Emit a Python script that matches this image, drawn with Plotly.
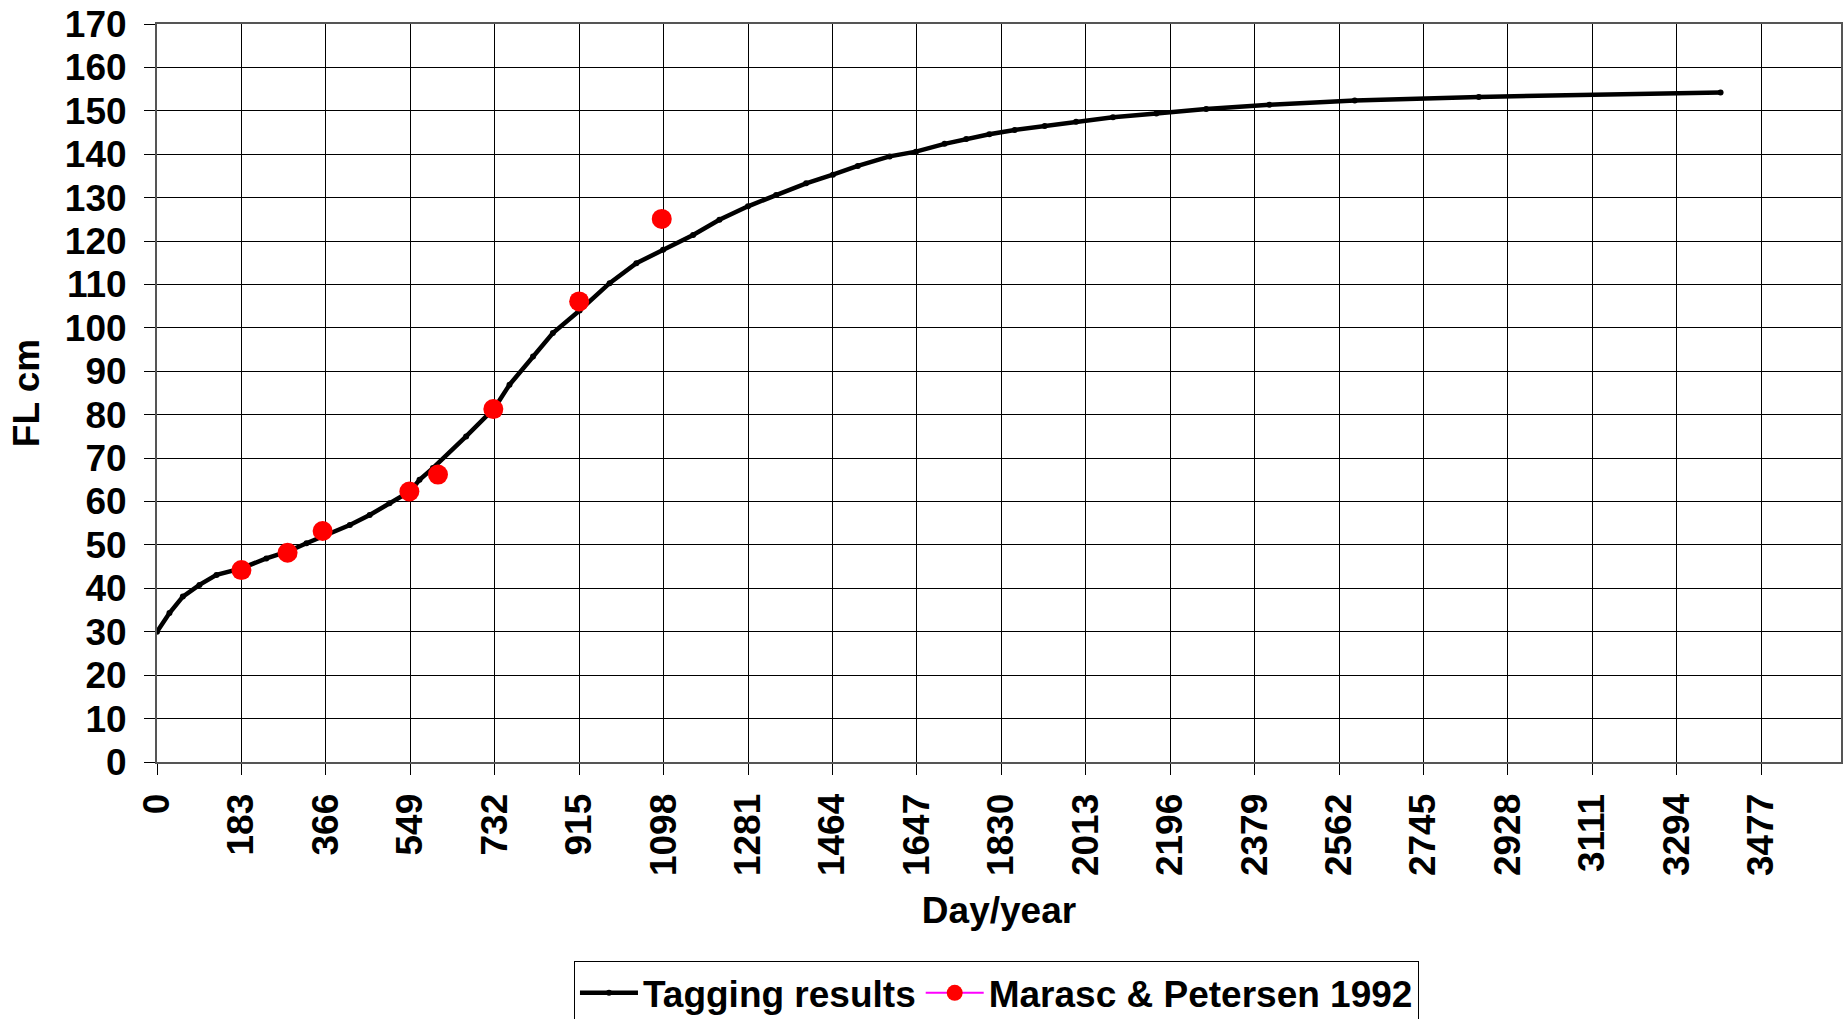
import plotly.graph_objects as go

# Tagging results (day, fork length cm)
tag_days = [0, 27, 56, 92, 129, 183, 237, 284, 324, 366, 418, 461, 504, 548, 569,
            598, 670, 732, 764, 815, 858, 916, 981, 1039, 1097, 1162, 1219, 1281,
            1342, 1407, 1465, 1519, 1588, 1645, 1707, 1754, 1804, 1859, 1924, 1992,
            2072, 2166, 2274, 2411, 2596, 2865, 3389]
tag_fl = [30.0, 34.3, 38.1, 40.8, 43.1, 44.6, 46.9, 48.5, 50.4, 52.3, 54.6, 56.9, 59.6, 62.3, 65.0,
          67.7, 75.0, 81.6, 86.9, 93.4, 98.8, 104.0, 110.3, 114.9, 118.0, 121.4, 124.9, 128.0,
          130.6, 133.3, 135.3, 137.3, 139.5, 140.6, 142.4, 143.5, 144.6, 145.6, 146.5, 147.5,
          148.5, 149.4, 150.4, 151.4, 152.4, 153.2, 154.2]

# Marasc & Petersen 1992
mp_days = [183, 283, 359, 547, 609, 729, 915, 1094]
mp_fl = [44.2, 48.2, 53.2, 62.3, 66.2, 81.3, 106.1, 125.1]

x_ticks = [0, 183, 366, 549, 732, 915, 1098, 1281, 1464, 1647, 1830, 2013, 2196,
           2379, 2562, 2745, 2928, 3111, 3294, 3477]
y_ticks = [0, 10, 20, 30, 40, 50, 60, 70, 80, 90, 100, 110, 120, 130, 140, 150, 160, 170]

FONT = "Liberation Sans, Arial, sans-serif"

# separate the Marasc points so no connecting line is drawn (legend still shows line)
mp_x, mp_y = [], []
for d, v in zip(mp_days, mp_fl):
    mp_x += [d, None]
    mp_y += [v, None]

fig = go.Figure()
fig.add_trace(go.Scatter(
    x=tag_days, y=tag_fl, mode="lines+markers", name="Tagging results",
    line=dict(color="black", width=4.5),
    marker=dict(color="black", size=6, symbol="circle"),
))
fig.add_trace(go.Scatter(
    x=mp_x, y=mp_y, mode="lines+markers", name="Marasc & Petersen 1992",
    connectgaps=False,
    line=dict(color="#FF00FF", width=2),
    marker=dict(color="#FF0000", size=20, symbol="circle", line=dict(width=0)),
))

axis_font = dict(family=FONT, size=37, color="black", weight="bold")

fig.update_layout(
    width=1843, height=1019,
    margin=dict(l=157, r=2, t=24, b=257, autoexpand=False),
    paper_bgcolor="white", plot_bgcolor="white",
    font=dict(family=FONT, color="black"),
    showlegend=True,
    legend=dict(
        orientation="h", x=0.4985, xanchor="center", y=-0.27, yanchor="top",
        font=dict(family=FONT, size=37, color="black", weight="bold"),
        bordercolor="black", borderwidth=1, bgcolor="white",
        itemsizing="trace", tracegroupgap=0, itemwidth=58,
    ),
    xaxis=dict(
        range=[0, 3650], tickmode="array", tickvals=x_ticks,
        ticktext=[str(t) for t in x_ticks], tickangle=-90,
        tickfont=axis_font, ticks="outside", ticklen=11, tickcolor="black", tickwidth=1,
        showgrid=True, gridcolor="black", gridwidth=1,
        showline=True, linecolor="#555555", linewidth=2, mirror=True,
        zeroline=False, ticklabelstandoff=4,
        title=dict(text="Day/year", font=axis_font, standoff=22),
        automargin=False,
    ),
    yaxis=dict(
        range=[0, 170], tickmode="array", tickvals=y_ticks,
        ticktext=[str(t) for t in y_ticks],
        tickfont=axis_font, ticks="outside", ticklen=11, tickcolor="black", tickwidth=1,
        showgrid=True, gridcolor="black", gridwidth=1,
        showline=True, linecolor="#555555", linewidth=2, mirror=True,
        zeroline=False, ticklabelstandoff=10,
        title=dict(text="FL cm", font=axis_font, standoff=14),
        automargin=False,
    ),
)

fig.write_html("out.html", config={"displayModeBar": False},
               post_script="document.body.style.margin='0';")
